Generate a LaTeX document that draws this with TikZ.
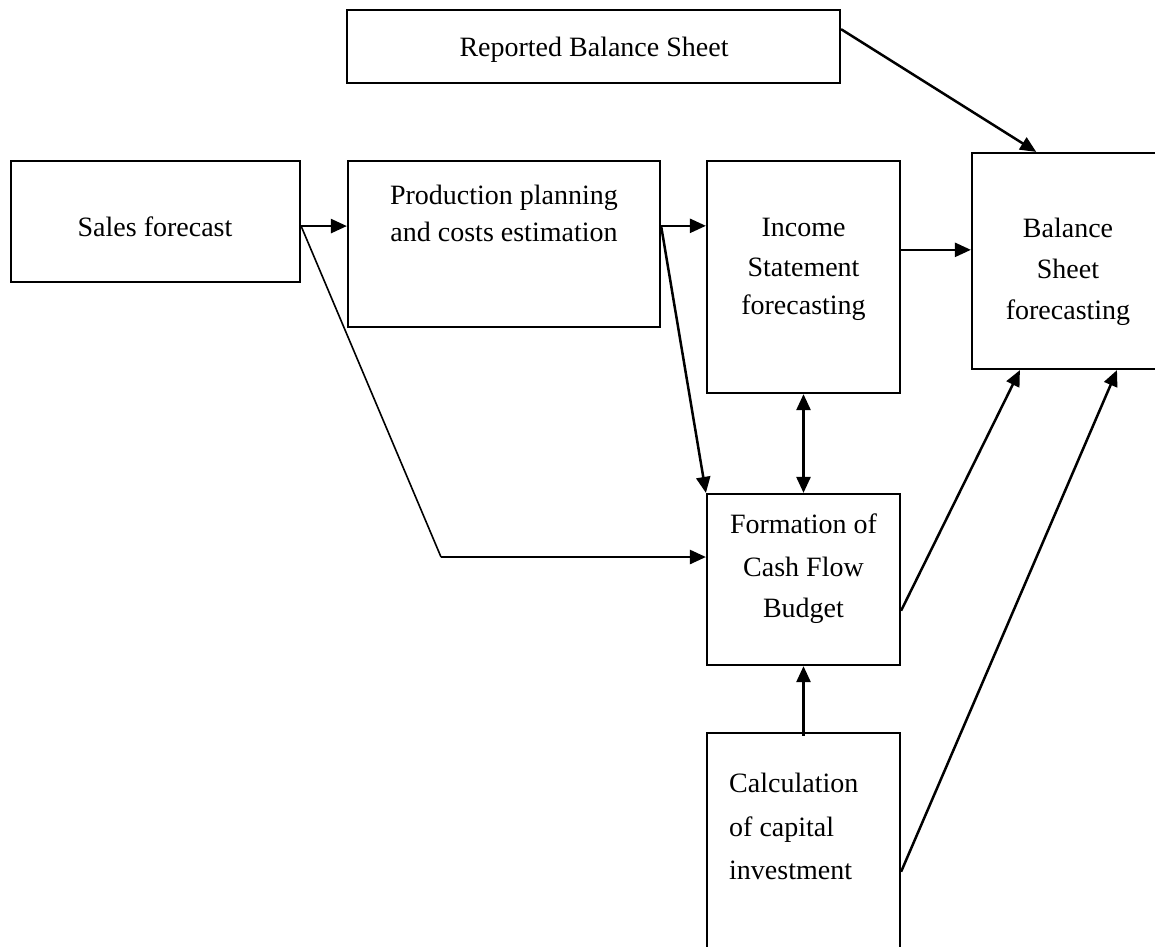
\documentclass[tikz,border=0pt]{standalone}
\usepackage{fontspec}
\setmainfont{Liberation Serif}
\usetikzlibrary{arrows.meta,calc}
\begin{document}
\begin{tikzpicture}[x=1pt,y=-1pt,
  box/.style={draw,line width=2.2pt,rectangle,inner sep=0pt},
  txt/.style={font=\fontsize{28}{40}\selectfont,anchor=base,inner sep=0pt},
  txtl/.style={txt,anchor=base west},
  arr/.style={line width=2.5pt,-{Triangle[length=16pt,width=14pt]}},
  arrr/.style={line width=2.5pt,{Triangle[length=16pt,width=14pt]}-{Triangle[length=16pt,width=14pt]}}]
\useasboundingbox (0,0) rectangle (1155,946);
\fill[white] (0,0) rectangle (1155,946);
% boxes
\node[box,minimum width=493pt,minimum height=73pt] (rbs) at (593.5,46.5) {};
\node[box,minimum width=289pt,minimum height=121pt] (sales) at (155.5,221.5) {};
\node[box,minimum width=312pt,minimum height=166pt] (prod) at (504,244) {};
\node[box,minimum width=193pt,minimum height=232pt] (inc) at (803.5,277) {};
\node[box,minimum width=190pt,minimum height=216pt] (bal) at (1067,261) {};
\node[box,minimum width=193pt,minimum height=171pt] (form) at (803.5,579.5) {};
\node[box,minimum width=193pt,minimum height=227pt] (calc) at (803.5,846.5) {};
% texts
\node[txt] (trbs) at (594,56) {Reported Balance Sheet};
\node[txt] (tsales) at (155,236) {Sales forecast};
\node[txt] (tprod1) at (504,204) {Production planning};
\node[txt] (tprod2) at (504,241) {and costs estimation};
\node[txt] (tinc1) at (803.5,236) {Income};
\node[txt] (tinc2) at (803.5,276) {Statement};
\node[txt] (tinc3) at (803.5,314) {forecasting};
\node[txt] (tbal1) at (1068,237) {Balance};
\node[txt] (tbal2) at (1068,278) {Sheet};
\node[txt] (tbal3) at (1068,319) {forecasting};
\node[txt] (tform1) at (803.5,533) {Formation of};
\node[txt] (tform2) at (803.5,576) {Cash Flow};
\node[txt] (tform3) at (803.5,617) {Budget};
\node[txtl] (tcalc1) at (729,792) {Calculation};
\node[txtl] (tcalc2) at (729,836) {of capital};
\node[txtl] (tcalc3) at (729,879) {investment};
% connection points
\coordinate (a1) at ($(sales.north east)!0.537!(sales.south east)$);
\coordinate (p1) at ($(prod.north east)!0.392!(prod.south east)$);
\coordinate (i1) at ($(inc.north east)!0.384!(inc.south east)$);
\coordinate (r1) at ($(rbs.north east)!0.27!(rbs.south east)$);
\coordinate (b1) at ($(bal.north west)!0.34!(bal.north east)$);
\coordinate (bend) at (441,557);
\coordinate (f1) at ($(form.north east)!0.68!(form.south east)$);
\coordinate (b2) at ($(bal.south west)!0.255!(bal.south east)$);
\coordinate (c1) at ($(calc.north east)!0.61!(calc.south east)$);
\coordinate (b3) at ($(bal.south west)!0.76!(bal.south east)$);
% connectors
\draw[arr] (a1) -- (a1 -| prod.west);
\draw[arr] (p1) -- (p1 -| inc.west);
\draw[arr] (i1) -- (i1 -| bal.west);
\draw[arr] (r1) -- (b1);
\draw[arr] (p1) -- (form.north west);
\draw[line width=1.6pt] (a1) -- (bend);
\draw[arr] (bend) -- (bend -| form.west);
\draw[arrr] (inc.south) -- (form.north);
\draw[arr] ([yshift=-4pt]calc.north) -- (form.south);
\draw[arr] (f1) -- (b2);
\draw[arr] (c1) -- (b3);
\end{tikzpicture}
\end{document}
